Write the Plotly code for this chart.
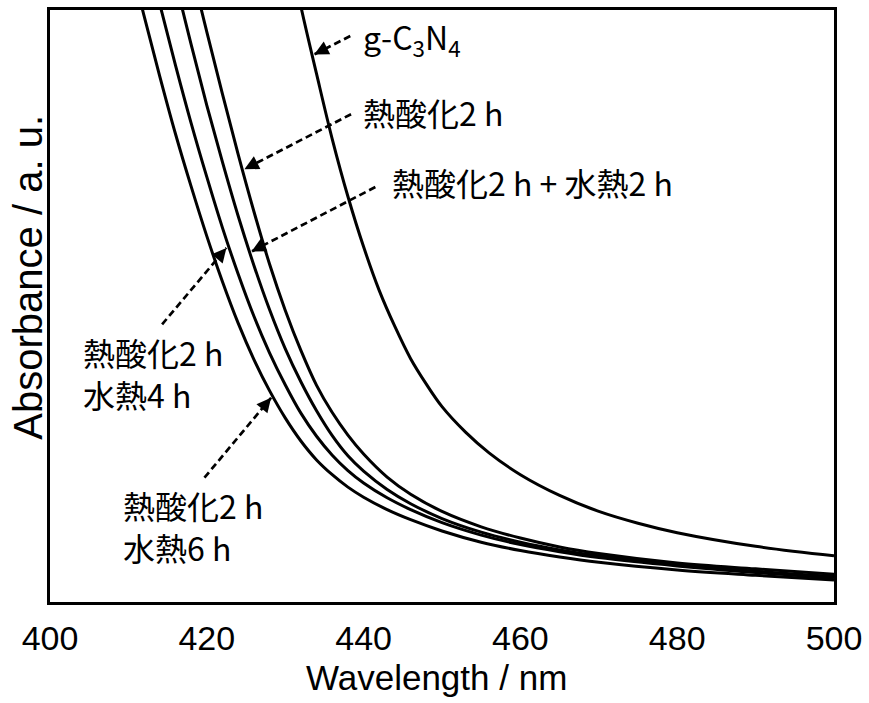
import plotly.graph_objects as go

# ---- data (wavelength in nm, absorbance in arbitrary units) ----
wl_g = [430, 432, 434, 436, 438, 440, 442, 444, 446, 448, 450, 453, 456, 460, 465, 470, 475, 480, 490, 500]
ab_g = [1.134, 1.006, 0.892, 0.782, 0.685, 0.600, 0.526, 0.465, 0.411, 0.368, 0.330, 0.287, 0.252, 0.215,
        0.180, 0.153, 0.133, 0.117, 0.094, 0.078]

wl_c = [410, 412, 414, 416, 418, 420, 422, 424, 426, 428, 430, 432, 434, 436, 438, 440, 443, 446, 450, 455,
        460, 465, 470, 480, 490, 500]
# 熱酸化2 h
ab_t2 = [None, None, None, 1.195, 1.073, 0.963, 0.858, 0.756, 0.660, 0.571, 0.493, 0.425, 0.366, 0.320, 0.282,
         0.250, 0.211, 0.182, 0.153, 0.127, 0.108, 0.093, 0.082, 0.066, 0.056, 0.047]
# 熱酸化2 h + 水熱2 h
ab_h2 = [None, None, 1.169, 1.050, 0.942, 0.839, 0.743, 0.652, 0.569, 0.494, 0.428, 0.372, 0.323, 0.281, 0.247,
         0.221, 0.190, 0.166, 0.141, 0.118, 0.101, 0.088, 0.078, 0.063, 0.052, 0.043]
# 熱酸化2 h 水熱4 h
ab_h4 = [None, 1.121, 1.010, 0.907, 0.809, 0.718, 0.632, 0.554, 0.483, 0.421, 0.367, 0.319, 0.280, 0.248, 0.222,
         0.201, 0.176, 0.156, 0.134, 0.113, 0.097, 0.085, 0.075, 0.061, 0.050, 0.041]
# 熱酸化2 h 水熱6 h
ab_h6 = [1.098, 0.990, 0.888, 0.791, 0.702, 0.618, 0.541, 0.471, 0.410, 0.357, 0.311, 0.272, 0.240, 0.215, 0.194,
         0.177, 0.156, 0.139, 0.120, 0.101, 0.087, 0.076, 0.067, 0.054, 0.045, 0.037]

series = [
    ("g-C3N4", wl_g, ab_g),
    ("熱酸化2 h", wl_c, ab_t2),
    ("熱酸化2 h + 水熱2 h", wl_c, ab_h2),
    ("熱酸化2 h 水熱4 h", wl_c, ab_h4),
    ("熱酸化2 h 水熱6 h", wl_c, ab_h6),
]

x_ticks = [400, 420, 440, 460, 480, 500]

# labels: (text, x, y)  and arrows: (tail x, tail y, tip x, tip y)
labels = [
    ("g-C<sub>3</sub>N<sub>4</sub>", 439.7, 0.953),
    ("熱酸化2 h", 439.7, 0.827),
    ("熱酸化2 h + 水熱2 h", 443.4, 0.709),
    ("熱酸化2 h<br>水熱4 h", 403.9, 0.387),
    ("熱酸化2 h<br>水熱6 h", 409.1, 0.128),
]
arrows = [
    (438.3, 0.956, 433.7, 0.925),
    (438.4, 0.824, 424.8, 0.731),
    (441.5, 0.701, 425.7, 0.592),
    (414.3, 0.469, 422.5, 0.598),
    (419.7, 0.210, 428.2, 0.345),
]

fig = go.Figure()
for name, xs, ys in series:
    pts = [(a, b) for a, b in zip(xs, ys) if b is not None]
    fig.add_trace(go.Scatter(x=[p[0] for p in pts], y=[p[1] for p in pts], mode="lines", name=name,
                             line=dict(color="black", width=3, shape="spline", smoothing=1.0),
                             showlegend=False, hoverinfo="skip"))

JP = "Noto Sans CJK JP"
SANS = "Liberation Sans, Arial, sans-serif"
annotations = []
for text, x, y in labels:
    annotations.append(dict(text=text, x=x, y=y, xref="x", yref="y", xanchor="left", yanchor="middle",
                            showarrow=False, align="left", font=dict(family=JP, size=32, color="black")))

shapes = []
W = 869 - 50 - 31
H = 703 - 7 - 101
for tx, ty, hx, hy in arrows:
    shapes.append(dict(type="line", xref="x", yref="y", x0=tx, y0=ty, x1=hx, y1=hy,
                       line=dict(color="black", width=2.7, dash="7px,4px")))
    dxp = (hx - tx) / 100 * W
    dyp = -(hy - ty) * H
    L = (dxp ** 2 + dyp ** 2) ** 0.5
    annotations.append(dict(text="", x=hx, y=hy, xref="x", yref="y", showarrow=True,
                            ax=-dxp / L * 10, ay=-dyp / L * 10, arrowhead=2, arrowsize=1.1,
                            arrowwidth=2.6, arrowcolor="black"))

annotations.append(dict(text="Absorbance / a. u.", xref="paper", yref="paper", x=-0.028, y=0.548,
                        xanchor="center", yanchor="middle", textangle=-90, showarrow=False,
                        font=dict(family=SANS, size=40, color="black")))
annotations.append(dict(text="Wavelength / nm", xref="paper", yref="paper", x=0.4924, y=-0.128,
                        xanchor="center", yanchor="middle", showarrow=False,
                        font=dict(family=SANS, size=35, color="black")))

fig.update_layout(
    width=869, height=703,
    margin=dict(l=50, r=31, t=7, b=101),
    paper_bgcolor="white", plot_bgcolor="white",
    shapes=shapes, annotations=annotations,
    xaxis=dict(range=[400, 500], tickvals=x_ticks, ticktext=[str(v) for v in x_ticks],
               showgrid=False, zeroline=False, showline=True, mirror=True, linecolor="black", linewidth=2.6,
               ticks="", ticklabelstandoff=4, ticklabeloverflow="allow",
               tickfont=dict(family=SANS, size=34, color="black")),
    yaxis=dict(range=[0, 1], showticklabels=False, ticks="", showgrid=False, zeroline=False,
               showline=True, mirror=True, linecolor="black", linewidth=2.6),
)

fig.write_html("out.html", config={"displayModeBar": False},
               post_script="document.body.style.margin='0';document.body.style.padding='0';")
